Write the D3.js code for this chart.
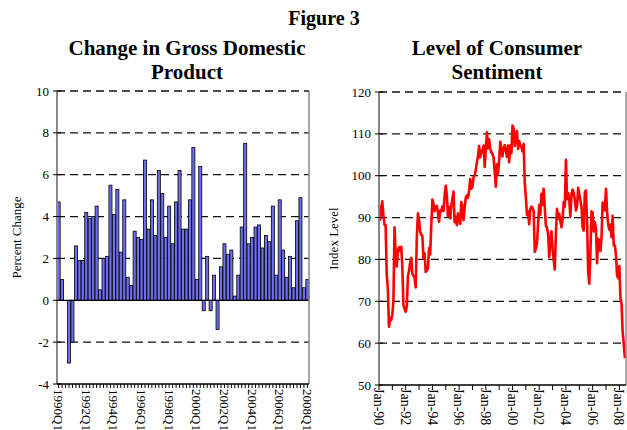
<!DOCTYPE html>
<html><head><meta charset="utf-8">
<script src="https://cdn.jsdelivr.net/npm/d3@7"></script>
<style>
body{margin:0;background:#fff}
svg{display:block}
text{font-family:"Liberation Serif","Times New Roman",serif;fill:#000}
</style>
</head><body>
<svg id="c" width="627" height="430"></svg>
<script>
// ---------- Data ----------
const gdpYears = d3.range(1990, 2009);
const gdpValues = [4.7, 1.0, 0.0, -3.0, -2.0, 2.6, 1.9, 1.9, 4.2, 3.9, 4.0, 4.5, 0.5, 2.0, 2.1, 5.5,
  4.1, 5.3, 2.3, 4.8, 1.1, 0.7, 3.3, 3.0, 2.9, 6.7, 3.4, 4.8, 3.1, 6.2, 5.1, 3.0,
  4.5, 2.7, 4.7, 6.2, 3.4, 3.4, 4.8, 7.3, 1.0, 6.4, -0.5, 2.1, -0.5, 1.2, -1.4, 1.6,
  2.7, 2.2, 2.4, 0.2, 1.2, 3.5, 7.5, 2.7, 3.0, 3.5, 3.6, 2.5, 3.1, 2.8, 4.5, 1.2,
  4.8, 2.4, 1.1, 2.1, 0.6, 3.8, 4.9, 0.6, 1.0];
const gdpTickLabels = ["1990Q1","1992Q1","1994Q1","1996Q1","1998Q1","2000Q1","2002Q1","2004Q1","2006Q1","2008Q1"];
const gdpYTicks = [-4, -2, 0, 2, 4, 6, 8, 10];

const sentimentValues = [
  93.0, 89.5, 91.3, 93.9, 90.6, 88.3, 88.2, 76.4, 72.8, 63.9, 66.0, 65.5,
  66.8, 70.4, 87.7, 81.8, 78.3, 82.1, 82.9, 82.0, 83.0, 78.3, 69.1, 68.2,
  67.5, 68.8, 76.0, 77.2, 79.2, 80.4, 76.6, 76.1, 75.6, 73.3, 85.3, 91.0,
  89.3, 86.6, 85.9, 85.6, 80.3, 81.5, 77.0, 77.3, 77.9, 82.7, 81.2, 88.2,
  94.3, 93.2, 91.5, 92.6, 92.8, 91.2, 89.0, 91.7, 91.5, 92.7, 91.6, 95.1,
  97.6, 95.1, 90.3, 92.5, 89.8, 92.7, 94.4, 96.2, 88.9, 90.2, 88.2, 91.0,
  89.3, 88.5, 93.7, 92.7, 89.4, 92.4, 94.7, 95.3, 94.7, 96.5, 99.2, 96.9,
  97.4, 99.7, 100.0, 101.4, 103.2, 104.5, 107.1, 104.4, 106.0, 105.6, 107.2, 102.1,
  106.6, 110.4, 106.5, 108.7, 106.5, 105.6, 105.2, 104.4, 100.9, 97.4, 102.7, 100.5,
  103.9, 108.1, 105.7, 104.6, 106.8, 107.3, 106.0, 104.5, 107.2, 103.2, 107.2, 105.4,
  112.0, 111.3, 107.1, 109.2, 110.7, 106.4, 108.3, 107.3, 106.8, 105.8, 107.6, 98.4,
  94.7, 90.6, 91.5, 88.4, 92.0, 92.6, 92.4, 91.5, 81.8, 82.7, 83.9, 88.8,
  93.0, 90.7, 95.7, 93.0, 96.9, 92.4, 88.1, 87.6, 86.1, 80.6, 84.2, 86.7,
  82.4, 79.9, 77.6, 86.0, 92.1, 89.7, 90.9, 89.3, 87.7, 89.6, 93.7, 92.6,
  103.8, 94.4, 95.8, 94.2, 90.2, 95.6, 96.7, 95.9, 94.2, 91.7, 92.8, 97.1,
  95.5, 94.1, 92.6, 87.7, 86.9, 96.0, 96.5, 89.1, 76.9, 74.2, 81.6, 91.5,
  91.2, 86.7, 88.9, 87.4, 79.1, 84.9, 84.7, 82.0, 85.4, 93.6, 92.1, 91.7,
  96.9, 91.3, 88.4, 87.1, 88.3, 85.3, 90.4, 83.4, 83.4, 80.9, 76.1, 75.5,
  78.4, 70.8, 69.5, 62.6, 59.8, 56.4];
const sentimentTickYears = d3.range(1990, 2009);
const sentimentLabelYears = [1990,1992,1994,1996,1998,2000,2002,2004,2006,2008];
const sentimentYTicks = [50, 60, 70, 80, 90, 100, 110, 120];

// derived categories
const quarters = [];
gdpYears.forEach(y => [1,2,3,4].forEach(q => quarters.push(y + "Q" + q)));
const gdpData = gdpValues.map((v, i) => ({q: quarters[i], v}));
const sentData = sentimentValues.map((v, i) => ({date: new Date(1990, i, 1), v}));

const svg = d3.select("#c");
const DASH = "8,5";

// ---------- Titles ----------
svg.append("text").attr("x", 324).attr("y", 25).attr("text-anchor", "middle")
  .style("font-size", "20px").style("font-weight", "bold").text("Figure 3");
[["Change in Gross Domestic", "Product", 187], ["Level of Consumer", "Sentiment", 497]].forEach(([a, b, cx]) => {
  svg.append("text").attr("x", cx).attr("y", 55).attr("text-anchor", "middle")
    .style("font-size", "21px").style("font-weight", "bold").text(a);
  svg.append("text").attr("x", cx).attr("y", 79).attr("text-anchor", "middle")
    .style("font-size", "21px").style("font-weight", "bold").text(b);
});

// ---------- Left chart ----------
const L = {x0: 57, x1: 309, y0: 91, y1: 384};
const xL = d3.scaleBand().domain(quarters.slice(0, gdpValues.length)).range([L.x0, L.x1])
  .paddingInner(0.12).paddingOuter(0.03);
const yL = d3.scaleLinear().domain([-4, 10]).range([L.y1, L.y0]);
const gL = svg.append("g");

gL.selectAll("line.grid").data(gdpYTicks.filter(t => t !== -4 && t !== 0)).join("line")
  .attr("x1", L.x0).attr("x2", L.x1).attr("y1", d => yL(d)).attr("y2", d => yL(d))
  .attr("stroke", "#111").attr("stroke-width", 1.3).attr("stroke-dasharray", DASH);

gL.selectAll("rect").data(gdpData).join("rect")
  .attr("x", d => xL(d.q)).attr("width", xL.bandwidth())
  .attr("y", d => yL(Math.max(0, d.v))).attr("height", d => Math.abs(yL(d.v) - yL(0)))
  .attr("fill", "#6e6ef2").attr("stroke", "#000").attr("stroke-width", 0.8);

gL.append("line").attr("x1", L.x0).attr("x2", L.x1).attr("y1", yL(0)).attr("y2", yL(0))
  .attr("stroke", "#000").attr("stroke-width", 1.2);

// border right
gL.append("line").attr("x1", L.x1).attr("x2", L.x1).attr("y1", L.y0).attr("y2", L.y1)
  .attr("stroke", "#888").attr("stroke-width", 1.5);
// left axis
gL.append("line").attr("x1", L.x0).attr("x2", L.x0).attr("y1", L.y0).attr("y2", L.y1)
  .attr("stroke", "#888").attr("stroke-width", 2);
gL.selectAll("line.yt").data(gdpYTicks).join("line").attr("class", "yt")
  .attr("x1", L.x0 - 4).attr("x2", L.x0 + 4).attr("y1", d => yL(d)).attr("y2", d => yL(d))
  .attr("stroke", "#000").attr("stroke-width", 1);
gL.selectAll("text.yl").data(gdpYTicks).join("text").attr("class", "yl")
  .attr("x", L.x0 - 8).attr("y", d => yL(d)).attr("dy", "0.35em").attr("text-anchor", "end")
  .style("font-size", "13px").text(d => d);
// bottom axis
gL.append("line").attr("x1", L.x0).attr("x2", L.x1).attr("y1", L.y1).attr("y2", L.y1)
  .attr("stroke", "#000").attr("stroke-width", 1.5);
gL.selectAll("line.xt").data(quarters.slice(0, gdpValues.length)).join("line").attr("class", "xt")
  .attr("x1", d => xL(d) + xL.bandwidth() / 2).attr("x2", d => xL(d) + xL.bandwidth() / 2)
  .attr("y1", L.y1).attr("y2", L.y1 + 4).attr("stroke", "#000").attr("stroke-width", 1);
gL.selectAll("text.xl").data(gdpTickLabels).join("text").attr("class", "xl")
  .attr("transform", d => `translate(${xL(d) + xL.bandwidth() / 2},${L.y1 + 5}) rotate(90)`)
  .attr("dy", "0.35em").style("font-size", "13px").text(d => d);
svg.append("text").attr("transform", `translate(16,${(L.y0 + L.y1) / 2}) rotate(-90)`)
  .attr("text-anchor", "middle").attr("dy", "0.35em").style("font-size", "13px").text("Percent Change");

// ---------- Right chart ----------
const R = {x0: 379, x1: 626, y0: 92, y1: 385};
const xR = d3.scaleTime().domain([new Date(1990, 0, 1), new Date(2008, 6, 1)]).range([R.x0, R.x1]);
const yR = d3.scaleLinear().domain([50, 120]).range([R.y1, R.y0]);
const gR = svg.append("g");

gR.selectAll("line.grid").data(sentimentYTicks.filter(t => t !== 50)).join("line")
  .attr("x1", R.x0).attr("x2", R.x1).attr("y1", d => yR(d)).attr("y2", d => yR(d))
  .attr("stroke", "#111").attr("stroke-width", 1.3).attr("stroke-dasharray", DASH);

gR.append("path").datum(sentData)
  .attr("d", d3.line().x(d => xR(d.date)).y(d => yR(d.v)))
  .attr("fill", "none").attr("stroke", "#ff0000").attr("stroke-width", 2.6)
  .attr("stroke-linejoin", "round");

gR.append("line").attr("x1", R.x1).attr("x2", R.x1).attr("y1", R.y0).attr("y2", R.y1)
  .attr("stroke", "#888").attr("stroke-width", 1.5);
gR.append("line").attr("x1", R.x0).attr("x2", R.x0).attr("y1", R.y0).attr("y2", R.y1)
  .attr("stroke", "#888").attr("stroke-width", 2);
gR.selectAll("line.yt").data(sentimentYTicks).join("line").attr("class", "yt")
  .attr("x1", R.x0 - 4).attr("x2", R.x0 + 4).attr("y1", d => yR(d)).attr("y2", d => yR(d))
  .attr("stroke", "#000").attr("stroke-width", 1);
gR.selectAll("text.yl").data(sentimentYTicks).join("text").attr("class", "yl")
  .attr("x", R.x0 - 8).attr("y", d => yR(d)).attr("dy", "0.35em").attr("text-anchor", "end")
  .style("font-size", "13px").text(d => d);
gR.append("line").attr("x1", R.x0).attr("x2", R.x1).attr("y1", R.y1).attr("y2", R.y1)
  .attr("stroke", "#000").attr("stroke-width", 1.5);
gR.selectAll("line.xt").data(sentimentTickYears).join("line").attr("class", "xt")
  .attr("x1", d => xR(new Date(d, 0, 1))).attr("x2", d => xR(new Date(d, 0, 1)))
  .attr("y1", R.y1).attr("y2", R.y1 + 5).attr("stroke", "#000").attr("stroke-width", 1);
gR.selectAll("text.xl").data(sentimentLabelYears).join("text").attr("class", "xl")
  .attr("transform", d => `translate(${xR(new Date(d, 0, 1))},${R.y1 + 3}) rotate(90)`)
  .attr("dy", "0.35em").style("font-size", "14px")
  .text(d => "Jan-" + String(d % 100).padStart(2, "0"));
svg.append("text").attr("transform", `translate(333,${(R.y0 + R.y1) / 2}) rotate(-90)`)
  .attr("text-anchor", "middle").attr("dy", "0.35em").style("font-size", "13px").text("Index Level");
</script>
</body></html>
